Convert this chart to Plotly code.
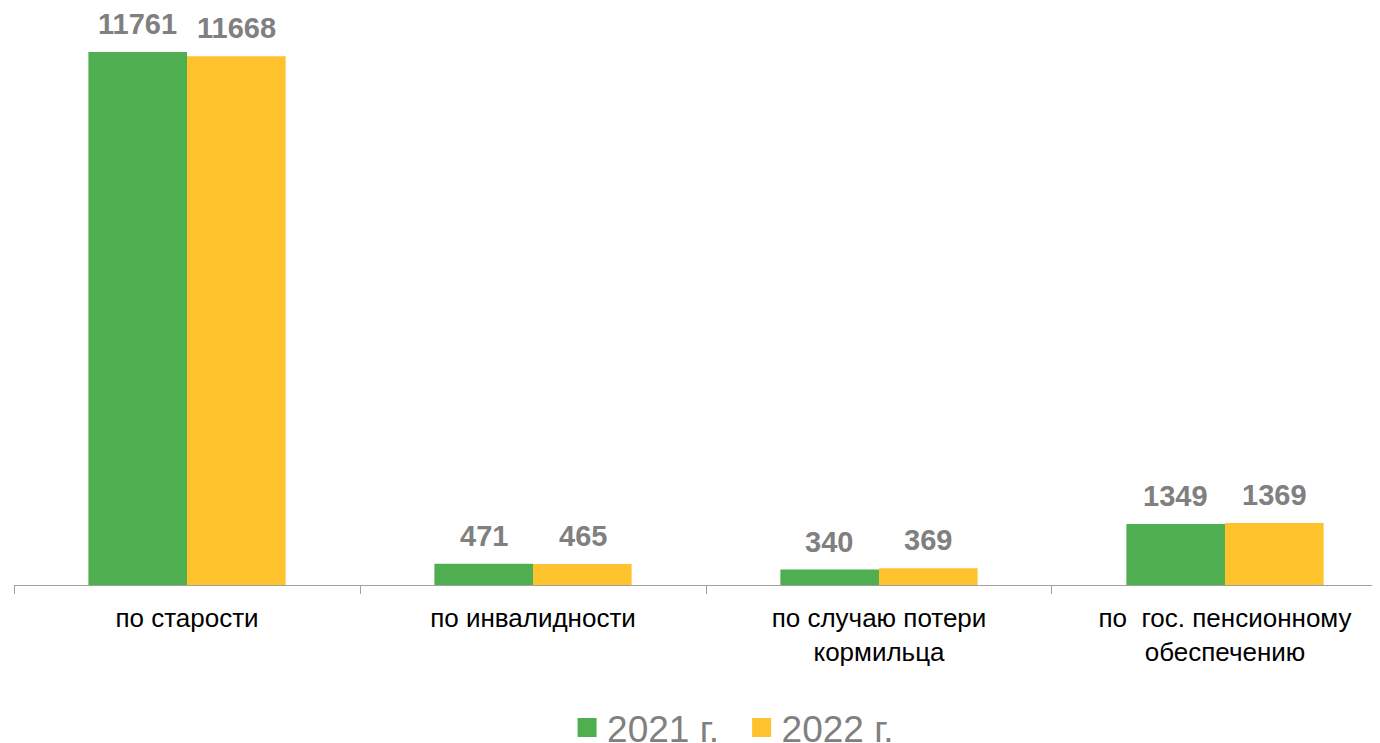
import plotly.graph_objects as go

categories = ["по старости", "по инвалидности", "по случаю потери<br>кормильца", "по  гос. пенсионному<br>обеспечению"]
series_names = ["2021 г.", "2022 г."]
values_2021 = [11761, 471, 340, 1349]
values_2022 = [11668, 465, 369, 1369]
colors = ["#4FAE4F", "#FEC22D"]

fig = go.Figure()
all_vals = [values_2021, values_2022]
for name, vals, col in zip(series_names, all_vals, colors):
    fig.add_trace(go.Bar(x=categories, y=vals, name=name, marker=dict(color=col, line=dict(width=0)),
                         showlegend=False))
# legend proxies
legend_labels = [series_names[0] + "\u00a0\u2009", series_names[1]]
for name, col in zip(legend_labels, colors):
    fig.add_trace(go.Scatter(x=[None], y=[None], mode="markers", name=name,
                             marker=dict(symbol="square", size=16, color=col,
                                         line=dict(color=col, width=3))))

shifts = [-49.5, 49.5]
for vals, sh in zip(all_vals, shifts):
    for c, v in zip(categories, vals):
        fig.add_annotation(x=c, y=v, text=f"<b>{v}</b>", showarrow=False, xshift=sh,
                           yanchor="bottom", yshift=10,
                           font=dict(family="Liberation Sans, Arial", size=29, color="#808080"))

fig.update_layout(
    width=1372, height=735,
    margin=dict(l=6, r=0, t=2, b=158, autoexpand=False),
    plot_bgcolor="white", paper_bgcolor="white",
    barmode="group", bargap=0.43, bargroupgap=0,
    font=dict(family="Liberation Sans, Arial", color="black"),
    legend=dict(orientation="h", x=0.5264, xanchor="center", y=-0.2487, yanchor="middle",
                font=dict(size=37, color="#808080"), itemsizing="trace"),
    xaxis=dict(range=[-0.5, 3.448], tickson="boundaries", ticks="outside", ticklen=8,
               tickcolor="#A0A0A0", showline=True, linecolor="#A0A0A0", linewidth=1,
               ticklabelstandoff=10,
               tickfont=dict(size=26, color="black"), showgrid=False, fixedrange=True),
    yaxis=dict(range=[0, 12690], visible=False, showgrid=False, fixedrange=True),
)

fig.write_html("out.html")
